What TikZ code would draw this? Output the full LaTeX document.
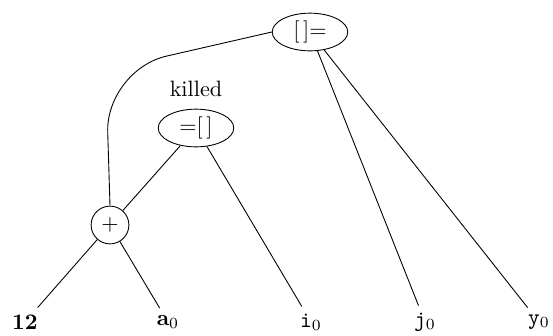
\documentclass[tikz,border=0pt]{standalone}
\usepackage{tikz}
\usetikzlibrary{shapes.geometric, positioning}

\begin{document}
\begin{tikzpicture}[
    x=0.45pt, y=-0.45pt,
    op/.style={
        ellipse, draw=black,
        inner sep=1pt, minimum width=34pt, minimum height=16pt
    },
    opsum/.style={circle, draw=black, inner sep=0pt, minimum size=17pt},
    leaf/.style={inner sep=3pt},
    edge/.style={thin}
]
\useasboundingbox (0,0) rectangle (553,335);

% 1. Operator nodes
\node[op] (assign) at (310,32) {[\,]=};
\node[op] (index) at (196,128) {=[\,]};
\node[above=2pt of index] (killedtag) {killed};
\node[opsum] (plus) at (110,225) {+};

% 2. Leaves (bottom row)
\node[leaf] (n12) at (25,322) {\textbf{12}};
\node[leaf] (a0) at (168,322) {\textbf{a}$_0$};
\node[leaf] (i0) at (311,322) {\texttt{i}$_0$};
\node[leaf] (j0) at (425,322) {\texttt{j}$_0$};
\node[leaf] (y0) at (539,322) {\texttt{y}$_0$};

% 3. Edges
\draw[edge, rounded corners=28pt] (assign.west) -- ++(-166,38) -- (plus.north);
\draw[edge] (assign) -- (j0);
\draw[edge] (assign) -- (y0);
\draw[edge] (index) -- (plus);
\draw[edge] (index) -- (i0);
\draw[edge] (plus) -- (n12);
\draw[edge] (plus) -- (a0);

\end{tikzpicture}
\end{document}
